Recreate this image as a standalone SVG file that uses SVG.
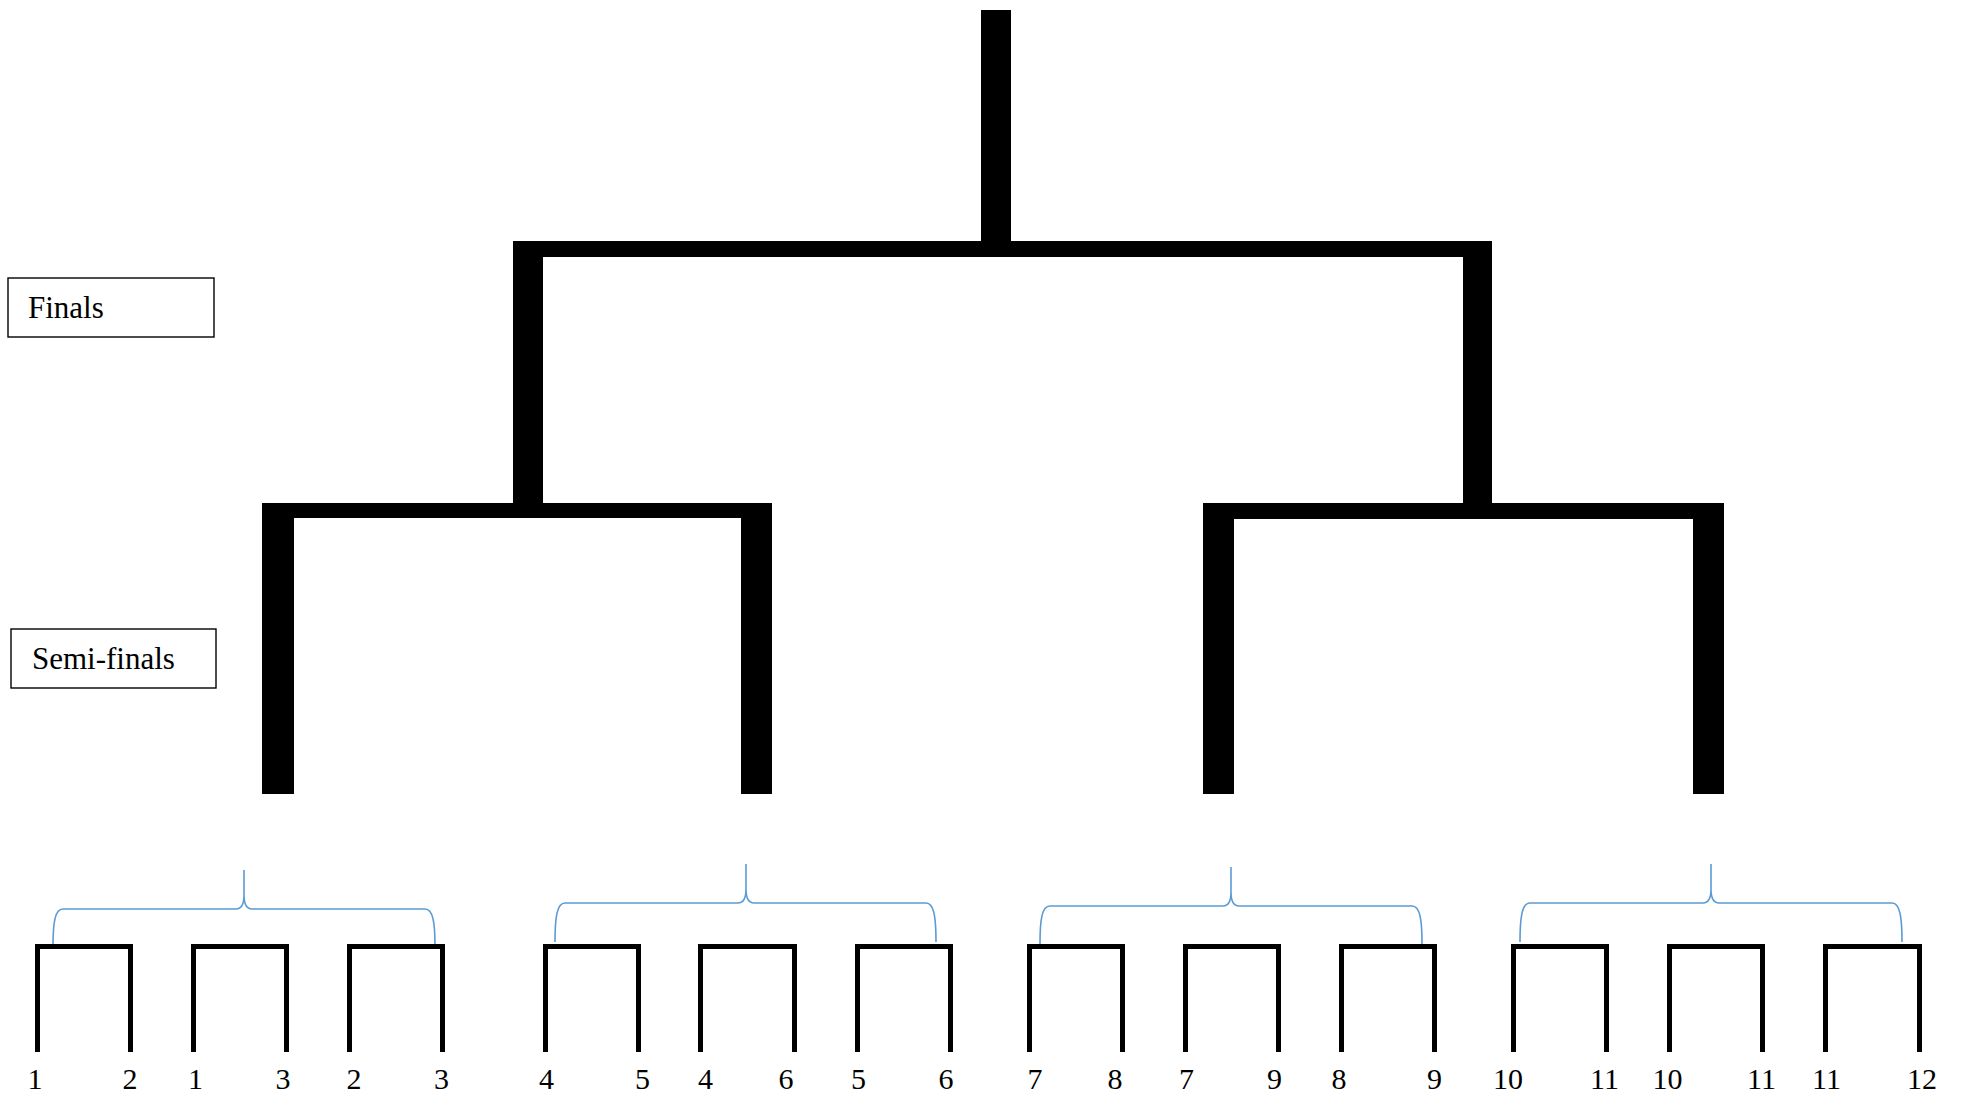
<svg xmlns="http://www.w3.org/2000/svg" width="1961" height="1093" viewBox="0 0 1961 1093">
<style>
.bar{fill:#000}
text{font-family:'Liberation Serif','Times New Roman',Times,serif}
.lbl{font-size:31px;fill:#000}
.num{font-size:30px;fill:#000;text-anchor:middle}
.box{fill:#fff;stroke:#000;stroke-width:1.4}
.pair{fill:none;stroke:#000;stroke-width:5;stroke-linejoin:miter;stroke-linecap:butt}
.brace{fill:none;stroke:#5B9BD5;stroke-width:1.6}
</style>
<rect width="1961" height="1093" fill="#fff"/>
<g id="connectors">
  <g id="tree">
    <rect class="bar" x="981" y="10" width="30" height="240"/>
    <rect class="bar" x="513" y="241" width="979" height="16"/>
    <rect class="bar" x="513" y="241" width="30" height="270"/>
    <rect class="bar" x="1463" y="241" width="29" height="270"/>
    <rect class="bar" x="262" y="503" width="510" height="15"/>
    <rect class="bar" x="262" y="503" width="32" height="291"/>
    <rect class="bar" x="741" y="503" width="31" height="291"/>
    <rect class="bar" x="1203" y="503" width="521" height="16"/>
    <rect class="bar" x="1203" y="503" width="31" height="291"/>
    <rect class="bar" x="1693" y="503" width="31" height="291"/>
  </g>
  <g id="braces">
    <path class="brace" d="M53,947 C53,922 55,909 63,909 H236 C241,909 244,904 244,895 V870 M435,947 C435,922 433,909 425,909 H252 C247,909 244,904 244,895"/>
    <path class="brace" d="M555,942 C555,917 557,903 565,903 H738 C743,903 746,898 746,889 V864 M936,942 C936,917 934,903 926,903 H754 C749,903 746,898 746,889"/>
    <path class="brace" d="M1040,944 C1040,919 1042,906 1050,906 H1223 C1228,906 1231,901 1231,892 V867 M1422,944 C1422,919 1420,906 1412,906 H1239 C1234,906 1231,901 1231,892"/>
    <path class="brace" d="M1520,942 C1520,917 1522,903 1530,903 H1703 C1708,903 1711,898 1711,889 V864 M1902,942 C1902,917 1900,903 1892,903 H1719 C1714,903 1711,898 1711,889"/>
  </g>
</g>
<g id="finals-label" font-family="Liberation Serif, serif">
  <rect class="box" x="8" y="278" width="206" height="59"/>
  <text class="lbl" x="28" y="318">Finals</text>
</g>
<g id="semifinals-label" font-family="Liberation Serif, serif">
  <rect class="box" x="11" y="629" width="205" height="59"/>
  <text class="lbl" x="32" y="669">Semi-finals</text>
</g>
<g id="g1">
  <path class="pair" d="M37.5,1052 V946.5 H130.5 V1052"/>
  <path class="pair" d="M193.5,1052 V946.5 H286.5 V1052"/>
  <path class="pair" d="M349.5,1052 V946.5 H442.5 V1052"/>
  <text class="num" x="35" y="1089">1</text>
  <text class="num" x="130" y="1089">2</text>
  <text class="num" x="195.5" y="1089">1</text>
  <text class="num" x="283" y="1089">3</text>
  <text class="num" x="354" y="1089">2</text>
  <text class="num" x="441.5" y="1089">3</text>
</g>
<g id="g2">
  <path class="pair" d="M545.5,1052 V946.5 H638.5 V1052"/>
  <path class="pair" d="M700.5,1052 V946.5 H794.5 V1052"/>
  <path class="pair" d="M857.5,1052 V946.5 H950.5 V1052"/>
  <text class="num" x="546.5" y="1089">4</text>
  <text class="num" x="642.5" y="1089">5</text>
  <text class="num" x="705.5" y="1089">4</text>
  <text class="num" x="786" y="1089">6</text>
  <text class="num" x="858.5" y="1089">5</text>
  <text class="num" x="946" y="1089">6</text>
</g>
<g id="g3">
  <path class="pair" d="M1029.5,1052 V946.5 H1122.5 V1052"/>
  <path class="pair" d="M1185.5,1052 V946.5 H1278.5 V1052"/>
  <path class="pair" d="M1341.5,1052 V946.5 H1434.5 V1052"/>
  <text class="num" x="1035" y="1089">7</text>
  <text class="num" x="1115" y="1089">8</text>
  <text class="num" x="1186.5" y="1089">7</text>
  <text class="num" x="1274.5" y="1089">9</text>
  <text class="num" x="1339" y="1089">8</text>
  <text class="num" x="1434.5" y="1089">9</text>
</g>
<g id="g4">
  <path class="pair" d="M1513.5,1052 V946.5 H1606.5 V1052"/>
  <path class="pair" d="M1669.5,1052 V946.5 H1762.5 V1052"/>
  <path class="pair" d="M1825.5,1052 V946.5 H1919.5 V1052"/>
  <text class="num" x="1508" y="1089">10</text>
  <text class="num" x="1604.5" y="1089">11</text>
  <text class="num" x="1667.5" y="1089">10</text>
  <text class="num" x="1761.5" y="1089">11</text>
  <text class="num" x="1826.5" y="1089">11</text>
  <text class="num" x="1922" y="1089">12</text>
</g>
</svg>
